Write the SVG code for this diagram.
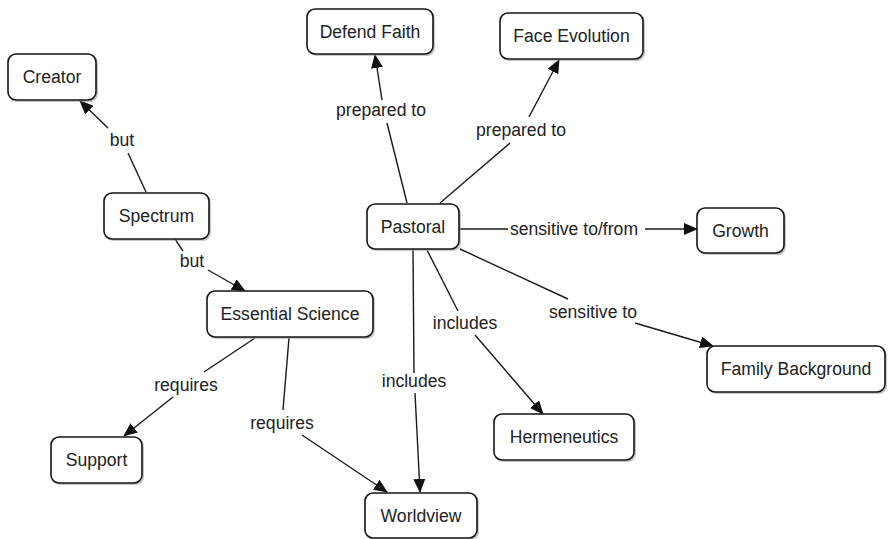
<svg xmlns="http://www.w3.org/2000/svg" width="889" height="539" viewBox="0 0 889 539">
<style>
.bg{fill:#ffffff}
.sh{fill:#9a9a9a;opacity:0.55}
.box{fill:#ffffff;stroke:#151515;stroke-width:1.6}
.t{font-family:"Liberation Sans",Arial,sans-serif;font-size:17.6px;fill:#222222;text-anchor:middle}
.e{stroke:#1a1a1a;stroke-width:1.4;fill:none}
.a{marker-end:url(#ah)}
</style>
<defs>
<marker id="ah" viewBox="0 0 14 12" refX="13" refY="6" markerWidth="14" markerHeight="12" markerUnits="userSpaceOnUse" orient="auto">
<path d="M0,0 L14,6 L0,12 z" fill="#111111"/>
</marker>
</defs>
<rect class="bg" x="0" y="0" width="889" height="539"/>
<g id="connectors">
<!-- Spectrum -> Creator -->
<line class="e" x1="146" y1="192" x2="128" y2="153"/>
<line class="e a" x1="108" y1="128" x2="80" y2="101"/>
<text class="t" x="122" y="146">but</text>
<!-- Spectrum -> Essential Science -->
<line class="e" x1="175" y1="239" x2="183" y2="251"/>
<line class="e a" x1="208" y1="270" x2="245" y2="291"/>
<text class="t" x="192" y="267">but</text>
<!-- Essential Science -> Support -->
<line class="e" x1="255" y1="338" x2="204" y2="372"/>
<line class="e a" x1="173" y1="397" x2="124" y2="436"/>
<text class="t" x="186" y="391">requires</text>
<!-- Essential Science -> Worldview -->
<line class="e" x1="289" y1="338" x2="283" y2="410"/>
<line class="e a" x1="302" y1="435" x2="387" y2="492"/>
<text class="t" x="282" y="429">requires</text>
<!-- Pastoral -> Defend Faith -->
<line class="e" x1="407" y1="203" x2="387" y2="123"/>
<line class="e a" x1="382" y1="100" x2="375" y2="55"/>
<text class="t" x="381" y="116">prepared to</text>
<!-- Pastoral -> Face Evolution -->
<line class="e" x1="440" y1="203" x2="510" y2="143"/>
<line class="e a" x1="529" y1="117" x2="559" y2="60"/>
<text class="t" x="521" y="136">prepared to</text>
<!-- Pastoral -> Growth -->
<line class="e" x1="459" y1="229" x2="508" y2="229"/>
<line class="e a" x1="645" y1="229" x2="697" y2="229"/>
<text class="t" x="574" y="235">sensitive to/from</text>
<!-- Pastoral -> Family Background -->
<line class="e" x1="460" y1="249" x2="568" y2="299"/>
<line class="e a" x1="635" y1="323" x2="713" y2="346"/>
<text class="t" x="593" y="318">sensitive to</text>
<!-- Pastoral -> Hermeneutics -->
<line class="e" x1="427" y1="250" x2="458" y2="311"/>
<line class="e a" x1="475" y1="335" x2="543" y2="414"/>
<text class="t" x="465" y="329">includes</text>
<!-- Pastoral -> Worldview -->
<line class="e" x1="413" y1="250" x2="414" y2="373"/>
<line class="e a" x1="415" y1="393" x2="420" y2="492"/>
<text class="t" x="414" y="387">includes</text>
</g>
<g id="creator">
<rect class="sh" x="10" y="56" width="88" height="46" rx="8"/>
<rect class="box" x="8" y="54" width="88" height="46" rx="8"/>
<text class="t" x="52" y="83">Creator</text>
</g>
<g id="spectrum">
<rect class="sh" x="106" y="195" width="105" height="46" rx="8"/>
<rect class="box" x="104" y="193" width="105" height="46" rx="8"/>
<text class="t" x="156.5" y="222">Spectrum</text>
</g>
<g id="defend-faith">
<rect class="sh" x="309" y="11" width="126" height="45" rx="8"/>
<rect class="box" x="307" y="9" width="126" height="45" rx="8"/>
<text class="t" x="370" y="38">Defend Faith</text>
</g>
<g id="face-evolution">
<rect class="sh" x="502" y="15" width="143" height="46" rx="8"/>
<rect class="box" x="500" y="13" width="143" height="46" rx="8"/>
<text class="t" x="571.5" y="42">Face Evolution</text>
</g>
<g id="pastoral">
<rect class="sh" x="369" y="206" width="92" height="45" rx="8"/>
<rect class="box" x="367" y="204" width="92" height="45" rx="8"/>
<text class="t" x="413" y="233">Pastoral</text>
</g>
<g id="growth">
<rect class="sh" x="699" y="210" width="87" height="45" rx="8"/>
<rect class="box" x="697" y="208" width="87" height="45" rx="8"/>
<text class="t" x="740.5" y="237">Growth</text>
</g>
<g id="family-background">
<rect class="sh" x="709" y="348" width="178" height="46" rx="8"/>
<rect class="box" x="707" y="346" width="178" height="46" rx="8"/>
<text class="t" x="796" y="375">Family Background</text>
</g>
<g id="essential-science">
<rect class="sh" x="209" y="293" width="166" height="46" rx="8"/>
<rect class="box" x="207" y="291" width="166" height="46" rx="8"/>
<text class="t" x="290" y="320">Essential Science</text>
</g>
<g id="support">
<rect class="sh" x="53" y="439" width="91" height="46" rx="8"/>
<rect class="box" x="51" y="437" width="91" height="46" rx="8"/>
<text class="t" x="96.5" y="466">Support</text>
</g>
<g id="hermeneutics">
<rect class="sh" x="496" y="416" width="140" height="46" rx="8"/>
<rect class="box" x="494" y="414" width="140" height="46" rx="8"/>
<text class="t" x="564" y="443">Hermeneutics</text>
</g>
<g id="worldview">
<rect class="sh" x="367" y="495" width="112" height="45" rx="8"/>
<rect class="box" x="365" y="493" width="112" height="45" rx="8"/>
<text class="t" x="421" y="522">Worldview</text>
</g>
</svg>
